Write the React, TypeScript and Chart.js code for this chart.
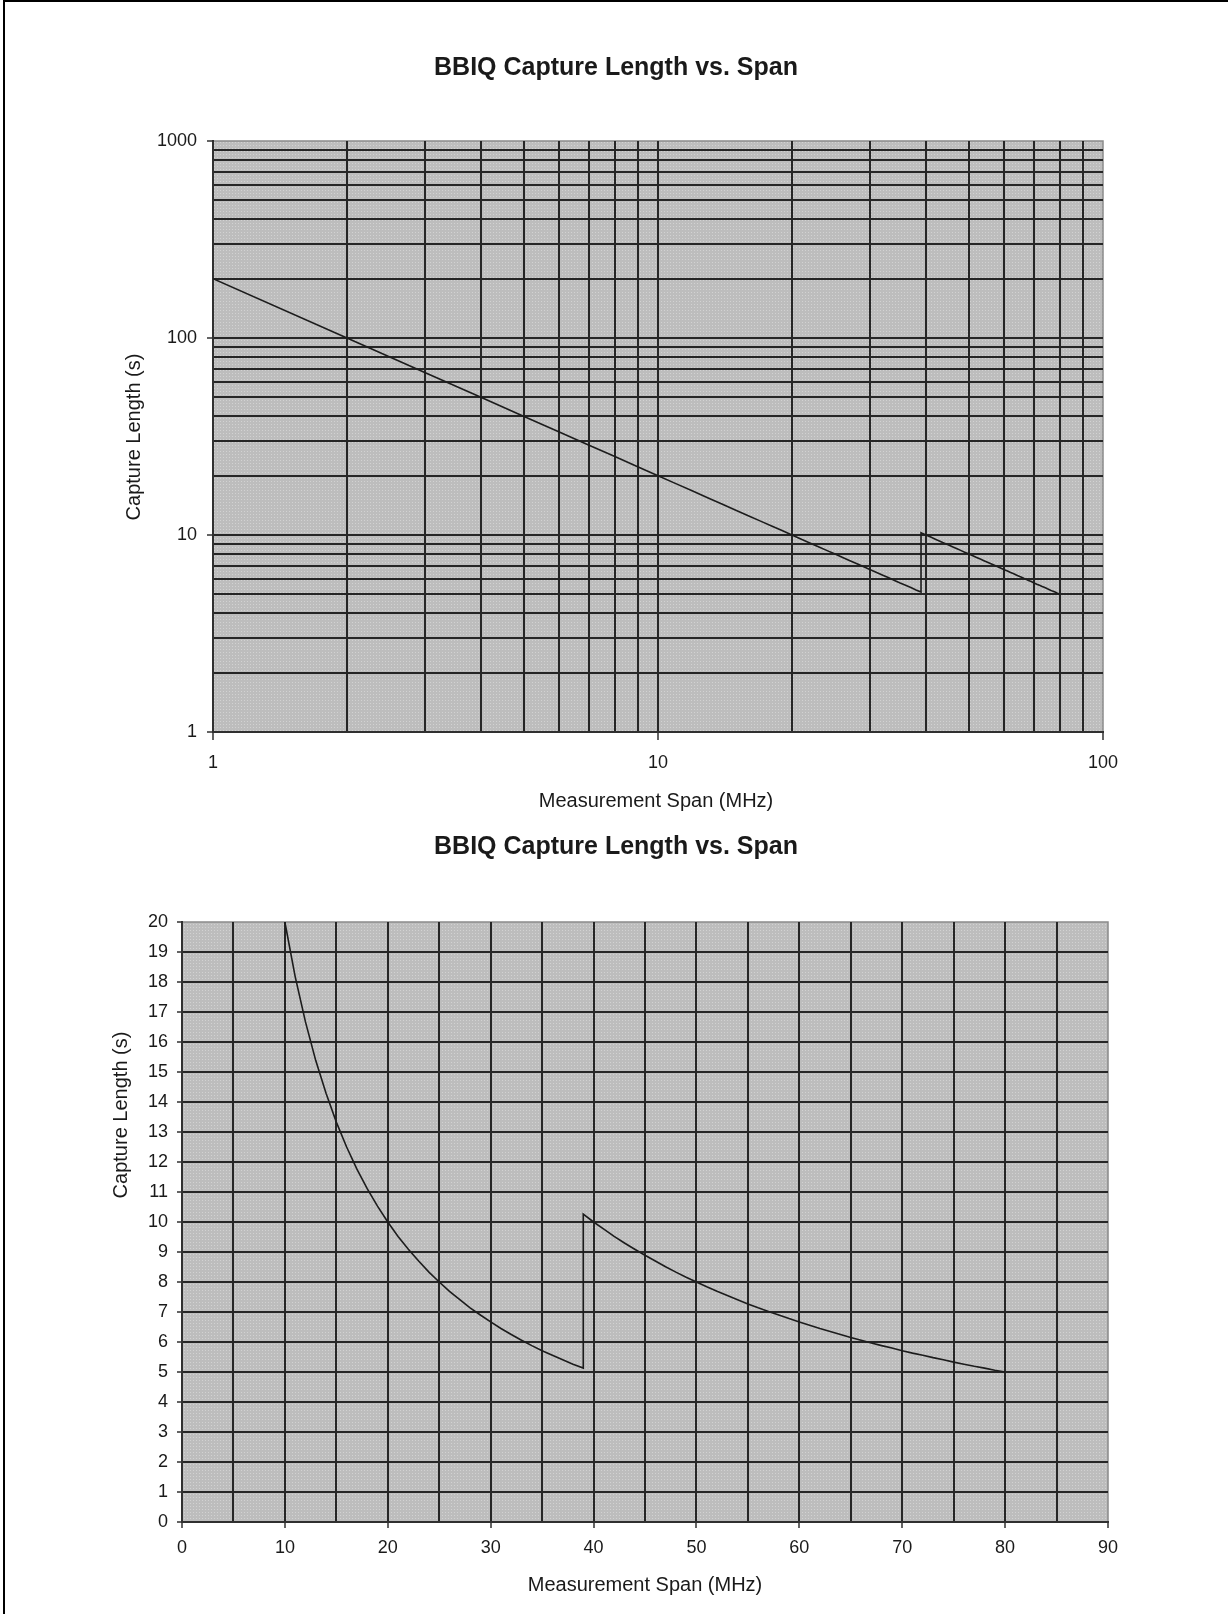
import { useEffect, useRef } from 'react';
import { Chart, registerables } from 'chart.js';

Chart.register(...registerables);

// ---------- data ----------
const CHART_TITLE = 'BBIQ Capture Length vs. Span';
const X_TITLE = 'Measurement Span (MHz)';
const Y_TITLE = 'Capture Length (s)';

const spanMHz = [
  1, 2, 3, 4, 5, 6, 7, 8, 9, 10, 11, 12, 13, 14, 15, 16, 17, 18, 19, 20,
  21, 22, 23, 24, 25, 26, 27, 28, 29, 30, 31, 32, 33, 34, 35, 36, 37, 38, 39,
  39, 40, 41, 42, 43, 44, 45, 46, 47, 48, 49, 50, 51, 52, 53, 54, 55, 56, 57, 58, 59, 60,
  61, 62, 63, 64, 65, 66, 67, 68, 69, 70, 71, 72, 73, 74, 75, 76, 77, 78, 79, 80,
];

const captureLengthS = [
  200, 100, 66.67, 50, 40, 33.33, 28.57, 25, 22.22, 20, 18.18, 16.67, 15.38, 14.29, 13.33, 12.5, 11.76, 11.11, 10.53, 10,
  9.52, 9.09, 8.7, 8.33, 8, 7.69, 7.41, 7.14, 6.9, 6.67, 6.45, 6.25, 6.06, 5.88, 5.71, 5.56, 5.41, 5.26, 5.13,
  10.26, 10, 9.76, 9.52, 9.3, 9.09, 8.89, 8.7, 8.51, 8.33, 8.16, 8, 7.84, 7.69, 7.55, 7.41, 7.27, 7.14, 7.02, 6.9, 6.78, 6.67,
  6.56, 6.45, 6.35, 6.25, 6.15, 6.06, 5.97, 5.88, 5.8, 5.71, 5.63, 5.56, 5.48, 5.41, 5.33, 5.26, 5.19, 5.13, 5.06, 5,
];

const logXTicks = [1, 2, 3, 4, 5, 6, 7, 8, 9, 10, 20, 30, 40, 50, 60, 70, 80, 90, 100];
const logYTicks = [
  1, 2, 3, 4, 5, 6, 7, 8, 9, 10, 20, 30, 40, 50, 60, 70, 80, 90,
  100, 200, 300, 400, 500, 600, 700, 800, 900, 1000,
];
const logLabelled = [1, 10, 100, 1000];

const linXTicks = [0, 5, 10, 15, 20, 25, 30, 35, 40, 45, 50, 55, 60, 65, 70, 75, 80, 85, 90];
const linXLabelled = [0, 10, 20, 30, 40, 50, 60, 70, 80, 90];
const linYTicks = [0, 1, 2, 3, 4, 5, 6, 7, 8, 9, 10, 11, 12, 13, 14, 15, 16, 17, 18, 19, 20];

// ---------- styling ----------
const FONT = '"Liberation Sans", Arial, Helvetica, sans-serif';
const TEXT = '#1a1a1a';
const GRID = '#262626';
const AXIS = '#303030';
const NONE = 'rgba(0,0,0,0)';

Chart.defaults.font.family = FONT;

type TextItem = { text: string; x: number; y: number; font: string; rotate?: boolean };

function makePattern(ctx: CanvasRenderingContext2D): CanvasPattern | string {
  const t = document.createElement('canvas');
  t.width = 3;
  t.height = 3;
  const c = t.getContext('2d');
  if (!c) return '#c0c0c0';
  c.fillStyle = '#bdbdbd';
  c.fillRect(0, 0, 3, 3);
  c.fillStyle = '#d2d2d2';
  c.fillRect(1, 1, 1, 1);
  return ctx.createPattern(t, 'repeat') || '#c0c0c0';
}

function framePlugin(texts: TextItem[]) {
  return {
    id: 'frameAndTexts',
    beforeDraw(chart: any) {
      const { ctx, chartArea: a } = chart;
      ctx.save();
      ctx.fillStyle = makePattern(ctx);
      ctx.fillRect(a.left, a.top, a.right - a.left, a.bottom - a.top);
      ctx.strokeStyle = '#8a8a8a';
      ctx.lineWidth = 1.5;
      ctx.strokeRect(a.left, a.top, a.right - a.left, a.bottom - a.top);
      ctx.restore();
    },
    afterDraw(chart: any) {
      const ctx = chart.ctx as CanvasRenderingContext2D;
      for (const t of texts) {
        ctx.save();
        ctx.font = t.font;
        ctx.fillStyle = TEXT;
        ctx.textAlign = 'center';
        ctx.textBaseline = 'middle';
        ctx.translate(t.x, t.y);
        if (t.rotate) ctx.rotate(-Math.PI / 2);
        ctx.fillText(t.text, 0, 0);
        ctx.restore();
      }
    },
  };
}

function points() {
  return spanMHz.map((x, i) => ({ x, y: captureLengthS[i] }));
}

function lineDataset() {
  return {
    data: points(),
    borderColor: '#1c1c1c',
    borderWidth: 1.6,
    pointRadius: 0,
    tension: 0,
    fill: false,
  };
}

function topConfig(): any {
  const H = 815;
  return {
    type: 'line',
    data: { datasets: [lineDataset()] },
    options: {
      responsive: false,
      animation: false,
      devicePixelRatio: 1,
      layout: { padding: { left: 0, top: 141, right: 125, bottom: 0 } },
      plugins: { legend: { display: false }, tooltip: { enabled: false }, title: { display: false } },
      scales: {
        x: {
          type: 'logarithmic',
          min: 1,
          max: 100,
          afterBuildTicks: (s: any) => {
            s.ticks = logXTicks.map((v) => ({ value: v, major: logLabelled.includes(v) }));
          },
          afterFit: (s: any) => {
            s.height = H - 732;
          },
          ticks: {
            autoSkip: false,
            maxRotation: 0,
            color: TEXT,
            font: { size: 18 },
            padding: 12,
            callback: (v: number) => (logLabelled.includes(v) ? String(v) : ''),
          },
          grid: {
            color: (c: any) => (c.tick && c.tick.value === 100 ? NONE : GRID),
            lineWidth: 2,
            tickLength: 8,
            tickWidth: 1.5,
            tickColor: (c: any) => (c.tick && logLabelled.includes(c.tick.value) ? AXIS : NONE),
          },
          border: { color: AXIS, width: 2 },
        },
        y: {
          type: 'logarithmic',
          min: 1,
          max: 1000,
          afterBuildTicks: (s: any) => {
            s.ticks = logYTicks.map((v) => ({ value: v, major: logLabelled.includes(v) }));
          },
          afterFit: (s: any) => {
            s.width = 213;
          },
          ticks: {
            autoSkip: false,
            color: TEXT,
            font: { size: 18 },
            padding: 10,
            callback: (v: number) => (logLabelled.includes(v) ? String(v) : ''),
          },
          grid: {
            color: (c: any) => (c.tick && c.tick.value === 1000 ? NONE : GRID),
            lineWidth: 2,
            tickLength: 6,
            tickWidth: 1.5,
            tickColor: (c: any) => (c.tick && logLabelled.includes(c.tick.value) ? AXIS : NONE),
          },
          border: { color: AXIS, width: 2 },
        },
      },
    },
    plugins: [
      framePlugin([
        { text: CHART_TITLE, x: 616, y: 68, font: `bold 25px ${FONT}` },
        { text: X_TITLE, x: 656, y: 801, font: `20px ${FONT}` },
        { text: Y_TITLE, x: 134, y: 437, font: `20px ${FONT}`, rotate: true },
      ]),
    ],
  };
}

function bottomConfig(): any {
  const H = 799;
  const TOP = 815;
  return {
    type: 'line',
    data: { datasets: [lineDataset()] },
    options: {
      responsive: false,
      animation: false,
      devicePixelRatio: 1,
      layout: { padding: { left: 0, top: 922 - TOP, right: 120, bottom: 0 } },
      plugins: { legend: { display: false }, tooltip: { enabled: false }, title: { display: false } },
      scales: {
        x: {
          type: 'linear',
          min: 0,
          max: 90,
          afterBuildTicks: (s: any) => {
            s.ticks = linXTicks.map((v) => ({ value: v }));
          },
          afterFit: (s: any) => {
            s.height = H - (1522 - TOP);
          },
          ticks: {
            autoSkip: false,
            maxRotation: 0,
            color: TEXT,
            font: { size: 18 },
            padding: 9,
            callback: (v: number) => (linXLabelled.includes(v) ? String(v) : ''),
          },
          grid: {
            color: (c: any) => (c.tick && c.tick.value === 90 ? NONE : GRID),
            lineWidth: 2,
            tickLength: 6,
            tickWidth: 1.5,
            tickColor: (c: any) => (c.tick && linXLabelled.includes(c.tick.value) ? AXIS : NONE),
          },
          border: { color: AXIS, width: 2 },
        },
        y: {
          type: 'linear',
          min: 0,
          max: 20,
          afterBuildTicks: (s: any) => {
            s.ticks = linYTicks.map((v) => ({ value: v }));
          },
          afterFit: (s: any) => {
            s.width = 182;
          },
          ticks: {
            autoSkip: false,
            color: TEXT,
            font: { size: 18 },
            padding: 9,
            callback: (v: number) => String(v),
          },
          grid: {
            color: (c: any) => (c.tick && c.tick.value === 20 ? NONE : GRID),
            lineWidth: 2,
            tickLength: 5,
            tickWidth: 1.5,
            tickColor: AXIS,
          },
          border: { color: AXIS, width: 2 },
        },
      },
    },
    plugins: [
      framePlugin([
        { text: CHART_TITLE, x: 616, y: 847 - TOP, font: `bold 25px ${FONT}` },
        { text: X_TITLE, x: 645, y: 1585 - TOP, font: `20px ${FONT}` },
        { text: Y_TITLE, x: 121, y: 1115 - TOP, font: `20px ${FONT}`, rotate: true },
      ]),
    ],
  };
}

export default function App() {
  const topRef = useRef<HTMLCanvasElement>(null);
  const botRef = useRef<HTMLCanvasElement>(null);

  useEffect(() => {
    const c1 = new Chart(topRef.current as HTMLCanvasElement, topConfig());
    const c2 = new Chart(botRef.current as HTMLCanvasElement, bottomConfig());
    return () => {
      c1.destroy();
      c2.destroy();
    };
  }, []);

  return (
    <div>
      <div
        style={{
          position: 'absolute',
          left: 3,
          top: 0,
          width: 1225,
          height: 1614,
          borderTop: '2px solid #000',
          borderLeft: '2px solid #000',
          boxSizing: 'border-box',
          background: '#fff',
        }}
      />
      <canvas
        ref={topRef}
        width={1228}
        height={815}
        style={{ position: 'absolute', left: 0, top: 0, width: 1228, height: 815 }}
      />
      <canvas
        ref={botRef}
        width={1228}
        height={799}
        style={{ position: 'absolute', left: 0, top: 815, width: 1228, height: 799 }}
      />
    </div>
  );
}
